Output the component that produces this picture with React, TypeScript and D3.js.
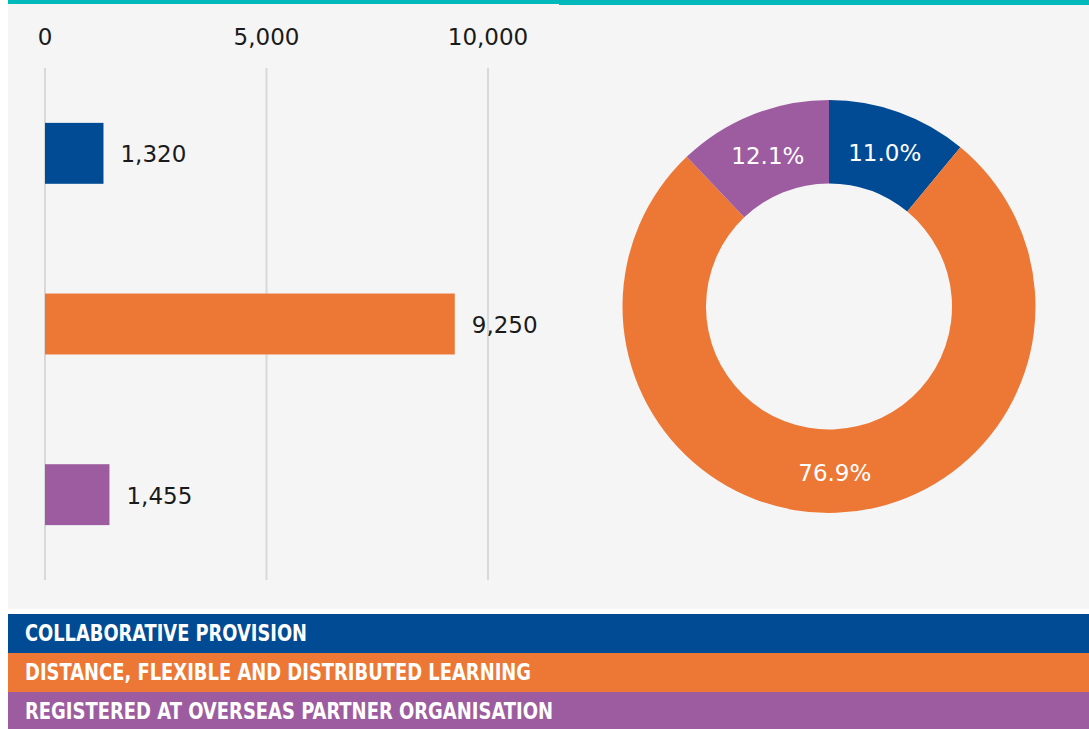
import * as d3 from 'd3';

const categories = [
  'COLLABORATIVE PROVISION',
  'DISTANCE, FLEXIBLE AND DISTRIBUTED LEARNING',
  'REGISTERED AT OVERSEAS PARTNER ORGANISATION',
];
const values = [1320, 9250, 1455];
const tickValues = [0, 5000, 10000];
const colors = ['#004b93', '#ed7735', '#9d5ca0'];
// measured label widths of the legend text in the original
const legendWidths = [282, 506, 528];

const W = 1089;
const H = 729;

export default function App() {
  const x = d3.scaleLinear().domain([0, 10000]).range([45, 488]);
  const y = d3
    .scaleBand<number>()
    .domain(d3.range(categories.length))
    .range([68, 580])
    .paddingInner(0.643)
    .paddingOuter(0.3215);

  const total = d3.sum(values);
  const pie = d3.pie<number>().sort(null).value(d => d);
  const arcs = pie(values);
  const arc = d3.arc<d3.PieArcDatum<number>>().innerRadius(123).outerRadius(206.5);
  const cx = 829;
  const cy = 306.5;
  const fmt = d3.format(',');

  const font = "'DejaVu Sans', sans-serif";
  const legendFont = "'DejaVu Sans Condensed', 'DejaVu Sans', sans-serif";

  return (
    <svg
      width={W}
      height={H}
      style={{ position: 'absolute', left: 0, top: 0, display: 'block' }}
    >
      <rect x={0} y={0} width={W} height={H} fill="#ffffff" />
      <rect x={8} y={0} width={W - 8} height={609} fill="#f5f5f5" />
      <rect x={8} y={0} width={552} height={4} fill="#00b9ba" />
      <rect x={559} y={0} width={W - 559} height={5} fill="#00b9ba" />

      {/* axis */}
      {tickValues.map(t => (
        <g key={t}>
          <line x1={x(t)} x2={x(t)} y1={68} y2={580} stroke="#d9d9d9" strokeWidth={2} />
          <text x={x(t)} y={45} textAnchor="middle" fontFamily={font} fontSize={23} fill="#1a1a1a">
            {fmt(t)}
          </text>
        </g>
      ))}

      {/* bars */}
      {values.map((v, i) => (
        <g key={i}>
          <rect
            x={x(0)}
            y={y(i)}
            width={x(v) - x(0)}
            height={y.bandwidth()}
            fill={colors[i]}
          />
          <text
            x={x(v) + 17}
            y={(y(i) ?? 0) + y.bandwidth() / 2 + 9}
            fontFamily={font}
            fontSize={23}
            fill="#1a1a1a"
          >
            {fmt(v)}
          </text>
        </g>
      ))}

      {/* donut */}
      <g transform={`translate(${cx},${cy})`}>
        {arcs.map((a, i) => (
          <path key={i} d={arc(a) || ''} fill={colors[i]} />
        ))}
        {arcs.map((a, i) => {
          const [lx, ly] = arc.centroid(a);
          return (
            <text
              key={'l' + i}
              x={lx}
              y={ly + 10}
              textAnchor="middle"
              fontFamily={font}
              fontSize={23}
              fill="#ffffff"
            >
              {((a.value / total) * 100).toFixed(1)}%
            </text>
          );
        })}
      </g>

      {/* legend */}
      {categories.map((c, i) => (
        <g key={c} transform={`translate(8,${614 + i * 39})`}>
          <rect x={0} y={0} width={W - 8} height={i === 2 ? 37 : 39} fill={colors[i]} />
          <text
            x={17}
            y={26.5}
            fontFamily={legendFont}
            fontWeight="bold"
            fontSize={22.5}
            textLength={legendWidths[i]}
            lengthAdjust="spacingAndGlyphs"
            fill="#ffffff"
          >
            {c}
          </text>
        </g>
      ))}
    </svg>
  );
}
